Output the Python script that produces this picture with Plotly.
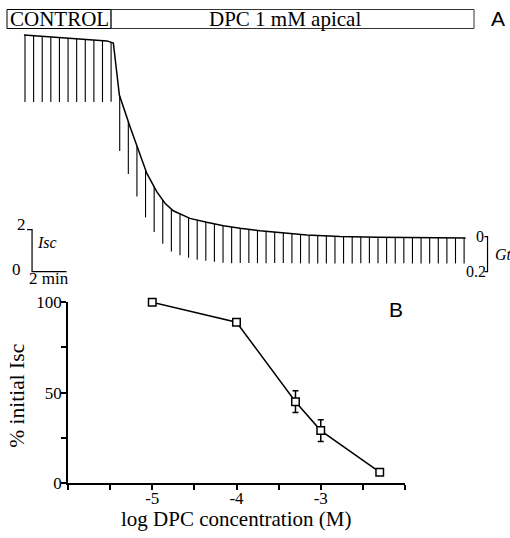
import plotly.graph_objects as go
import numpy as np

# ---------------- DATA ----------------
# Panel A: continuous Isc record (time in min, Isc in uA/cm2)
trace_t = [-0.06, 1.45, 3.37, 4.76, 5.13, 5.48, 6.10, 6.64, 7.07, 7.65, 8.13, 8.61,
           9.58, 10.55, 11.52, 12.49, 13.65, 16.36, 18.29, 20.5, 22.94, 25.59]
trace_isc = [11.27, 11.19, 11.07, 10.99, 10.89, 8.41, 6.90, 5.64, 4.69, 3.81, 3.26, 2.90,
             2.54, 2.35, 2.19, 2.07, 1.95, 1.75, 1.68, 1.64, 1.61, 1.60]

# Conductance pulses (time in min, Gt deflection in mS/cm2)
pulse_t = [0, 0.5, 1, 1.5, 2, 2.5, 3, 3.5, 4, 4.5, 5, 5.5, 6, 6.5, 7, 7.5, 8, 8.5, 9,
           9.5, 10, 10.5, 11, 11.5, 12, 12.5, 13, 13.5, 14, 14.5, 15, 15.5, 16, 16.5,
           17, 17.5, 18, 18.5, 19, 19.5, 20, 20.5, 21, 21.5, 22, 22.5, 23, 23.5, 24,
           24.5, 25, 25.5]
pulse_gt = [0.383, 0.379, 0.376, 0.373, 0.369, 0.365, 0.362, 0.358, 0.355, 0.351, 0.340,
            0.313, 0.299, 0.286, 0.271, 0.258, 0.250, 0.242, 0.237, 0.229, 0.226, 0.220,
            0.216, 0.212, 0.207, 0.198, 0.193, 0.187, 0.182, 0.177, 0.173, 0.169, 0.166,
            0.163, 0.160, 0.158, 0.156, 0.154, 0.153, 0.151, 0.150, 0.149, 0.149, 0.148,
            0.147, 0.147, 0.146, 0.146, 0.146, 0.146, 0.145, 0.145]

# Panel B: dose response
log_conc = [-5, -4, -3.3, -3, -2.3]
pct_isc = [100, 89, 45, 29, 6]
pct_err = [0, 0, 6, 6, 0]
xtick_vals = [-6, -5.5, -5, -4.5, -4, -3.5, -3, -2.5, -2]
xtick_text = ["", "", "-5", "", "-4", "", "-3", "", ""]
ytick_vals = [0, 25, 50, 75, 100]
ytick_text = ["0", "", "50", "", "100"]

# scale bars
SCALE_ISC = 2      # uA/cm2
SCALE_MIN = 2      # min
SCALE_GT = 0.2     # mS/cm2
GT_TO_ISC = 175 / 21   # plot-unit conversion of Gt deflections

# ---------------- LAYOUT HELPERS ----------------
W, H = 510, 538
def px(x): return x / W
def py(y): return 1 - y / H

# panel A overlay axis ranges (full figure)
PX_PER_MIN = 17.22
PX_PER_ISC = 21.0
T0_PX = 25.0
ZERO_PX = 271.7
xa_range = [-T0_PX / PX_PER_MIN, (W - T0_PX) / PX_PER_MIN]
ya_range = [(ZERO_PX - H) / PX_PER_ISC, ZERO_PX / PX_PER_ISC]

SERIF = "Liberation Serif"
SANS = "Liberation Sans"

fig = go.Figure()

# Isc record
fig.add_trace(go.Scatter(x=trace_t, y=trace_isc, mode="lines",
                         line=dict(color="black", width=1.5),
                         xaxis="x2", yaxis="y2", hoverinfo="skip"))

# Pulses hanging from the record
tops = np.interp(pulse_t, trace_t, trace_isc)
px_list, py_list = [], []
for t, top, g in zip(pulse_t, tops, pulse_gt):
    px_list += [t, t, None]
    py_list += [top, top - g * GT_TO_ISC, None]
fig.add_trace(go.Scatter(x=px_list, y=py_list, mode="lines",
                         line=dict(color="black", width=1.1),
                         xaxis="x2", yaxis="y2", hoverinfo="skip"))

# Isc / time scale bar
sb_x = 0.41
fig.add_trace(go.Scatter(
    x=[sb_x - 0.29, sb_x, sb_x, sb_x + SCALE_MIN],
    y=[SCALE_ISC, SCALE_ISC, 0, 0],
    mode="lines", line=dict(color="black", width=1.2),
    xaxis="x2", yaxis="y2", hoverinfo="skip"))

# Gt scale bracket
gb_x = 26.86
gb_top = SCALE_GT * GT_TO_ISC
fig.add_trace(go.Scatter(
    x=[gb_x - 0.18, gb_x, gb_x, gb_x - 0.18],
    y=[gb_top, gb_top, 0, 0],
    mode="lines", line=dict(color="black", width=1.2),
    xaxis="x2", yaxis="y2", hoverinfo="skip"))

# Panel B
fig.add_trace(go.Scatter(
    x=log_conc, y=pct_isc, mode="lines+markers",
    line=dict(color="black", width=1.5),
    marker=dict(symbol="square", size=7.5, color="white",
                line=dict(color="black", width=1.5)),
    error_y=dict(type="data", array=pct_err, visible=True,
                 color="black", thickness=1.5, width=3),
    cliponaxis=False, hoverinfo="skip"))

shapes = [
    dict(type="rect", xref="paper", yref="paper", x0=px(7), x1=px(111),
         y0=py(28.5), y1=py(9.5), line=dict(color="black", width=1)),
    dict(type="rect", xref="paper", yref="paper", x0=px(111), x1=px(474),
         y0=py(28.5), y1=py(9.5), line=dict(color="#333", width=1)),
]

def ann(text, x, y, size, family=SERIF, xanchor="center", italic=False, angle=0):
    t = f"<i>{text}</i>" if italic else text
    return dict(text=t, x=px(x), y=py(y), xref="paper", yref="paper",
                xanchor=xanchor, yanchor="middle", showarrow=False,
                textangle=angle, font=dict(family=family, size=size, color="black"))

annotations = [
    ann("CONTROL", 59, 19, 21),
    ann("DPC 1 mM apical", 285, 19, 21),
    ann("A", 498, 19, 21, family=SANS),
    ann("B", 396, 309, 21, family=SANS),
    ann("2", 21.5, 225, 17),
    ann("0", 16, 269, 17),
    ann("Isc", 47, 243, 16, italic=True),
    ann("2 min", 49, 278, 17),
    ann("0", 480, 236, 16),
    ann("0.2", 476, 271, 16),
    ann("Gt", 493, 254, 16, xanchor="left", italic=True),
    ann("log DPC concentration (M)", 236, 519, 21),
    ann("% initial Isc", 16.7, 396, 21.5, angle=-90),
]

fig.update_layout(
    width=W, height=H, autosize=False,
    margin=dict(l=0, r=0, t=0, b=0, pad=0, autoexpand=False),
    paper_bgcolor="white", plot_bgcolor="rgba(0,0,0,0)",
    showlegend=False,
    shapes=shapes, annotations=annotations,
    xaxis=dict(domain=[px(68), px(405)], range=[-6, -2],
               showline=True, linecolor="black", linewidth=1.5,
               ticks="outside", ticklen=5, tickwidth=1.5, tickcolor="black",
               tickvals=xtick_vals, ticktext=xtick_text, ticklabelstandoff=-6,
               showgrid=False, zeroline=False, automargin=False,
               tickfont=dict(family=SERIF, size=17, color="black"),
               fixedrange=True),
    yaxis=dict(domain=[py(483), py(302.3)], range=[0, 100],
               showline=True, linecolor="black", linewidth=1.5,
               ticks="outside", ticklen=5, tickwidth=1.5, tickcolor="black",
               tickvals=ytick_vals, ticktext=ytick_text, ticklabelstandoff=-4,
               showgrid=False, zeroline=False, automargin=False,
               tickfont=dict(family=SERIF, size=17, color="black"),
               fixedrange=True),
    xaxis2=dict(domain=[0, 1], range=xa_range, visible=False, fixedrange=True,
                anchor="y2"),
    yaxis2=dict(domain=[0, 1], range=ya_range, visible=False, fixedrange=True,
                anchor="x2"),
)

fig.write_html("out.html", config={"displayModeBar": False},
               post_script="document.body.style.margin='0';document.body.style.padding='0';")
